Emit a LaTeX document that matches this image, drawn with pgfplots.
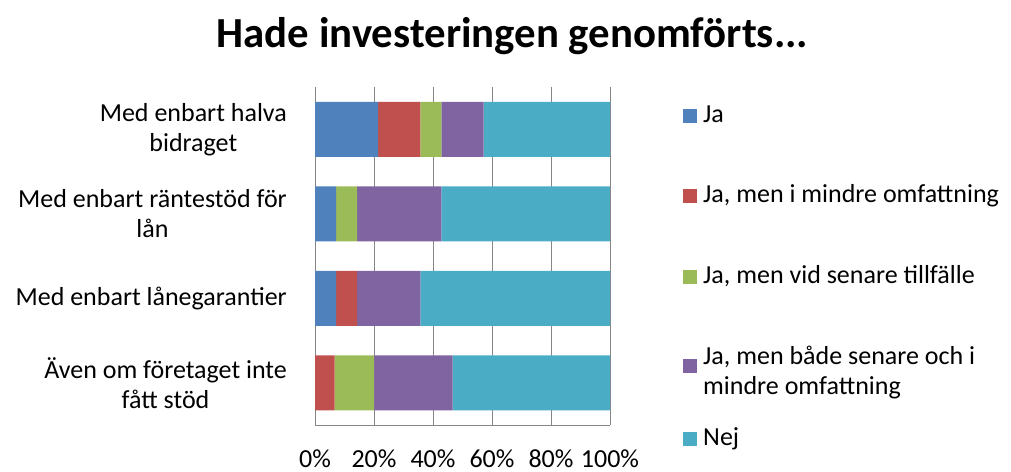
\documentclass[border=0pt]{standalone}
\usepackage{pgfplots}
\pgfplotsset{compat=1.18}
\usepackage{fontspec}
\setmainfont{Carlito}
\definecolor{cJa}{HTML}{4F81BD}
\definecolor{cMindre}{HTML}{C0504D}
\definecolor{cSenare}{HTML}{9BBB59}
\definecolor{cBada}{HTML}{8064A2}
\definecolor{cNej}{HTML}{4BACC6}
\definecolor{gridgray}{HTML}{868686}
\newcommand{\lblfont}{\fontsize{26.1}{30.1}\selectfont}
\pgfplotsset{
  sqlegend/.style={legend image code/.code={\fill[##1] (0bp,-0.5bp) rectangle (14bp,13.5bp);}},
  sqlegendlow/.style={legend image code/.code={\fill[##1] (0bp,-8.5bp) rectangle (14bp,5.5bp);}},
}
\begin{document}
\begin{tikzpicture}
\path[use as bounding box] (0,0) rectangle (1011bp,-472bp);
\node[anchor=base, font=\fontsize{43}{50}\selectfont\bfseries] at (512.5bp,-47bp) {Hade investeringen genomförts...};
\begin{axis}[
  at={(315bp,-425bp)}, anchor=south west,
  scale only axis, width=295bp, height=338bp,
  xbar stacked, bar width=55bp,
  xmin=0, xmax=100, ymin=-0.5, ymax=3.5, y dir=reverse,
  xtick={0,20,40,60,80,100},
  xticklabels={0\%,20\%,40\%,60\%,80\%,100\%},
  ytick={0,1,2,3},
  yticklabels={{Med enbart halva\\bidraget},{Med enbart räntestöd för\\lån},{Med enbart lånegarantier},{Även om företaget inte\\fått stöd}},
  major tick length=0pt,
  axis x line*=bottom, axis y line*=left,
  axis line style={-, draw=gridgray, line width=1bp},
  xmajorgrids, grid style={draw=gridgray, line width=1bp},
  xticklabel style={font=\lblfont, anchor=base, inner sep=0pt, yshift=-42.5bp},
  yticklabel style={font=\lblfont, align=center, anchor=east, inner sep=0pt, xshift=-28bp},
  sqlegend,
  legend style={draw=none, fill=none, at={(rel axis cs:1,1)}, anchor=north west,
    xshift=73bp, yshift=-15bp, inner xsep=0pt, inner ysep=0pt,
    font=\lblfont, row sep=52.75bp, column sep=6bp,
    cells={anchor=base west},
    nodes={inner sep=0pt, text height=20bp, text depth=8bp}},
]
\addplot[fill=cJa, draw=none] coordinates {(21.43,0) (7.14,1) (7.14,2) (0,3)};
\addlegendentry{Ja}
\addplot[fill=cMindre, draw=none] coordinates {(14.29,0) (0,1) (7.14,2) (6.67,3)};
\addlegendentry{Ja, men i mindre omfattning}
\addplot[fill=cSenare, draw=none] coordinates {(7.14,0) (7.14,1) (0,2) (13.33,3)};
\addlegendentry{Ja, men vid senare tillfälle}
\addplot[fill=cBada, draw=none, sqlegendlow] coordinates {(14.29,0) (28.57,1) (21.43,2) (26.67,3)};
\addlegendentry{\smash{\begin{tabular}[t]{@{}l@{}}Ja, men både senare och i\\mindre omfattning\end{tabular}}}
\addplot[fill=cNej, draw=none] coordinates {(42.86,0) (57.14,1) (64.29,2) (53.33,3)};
\addlegendentry{Nej}
\end{axis}
\end{tikzpicture}
\end{document}
